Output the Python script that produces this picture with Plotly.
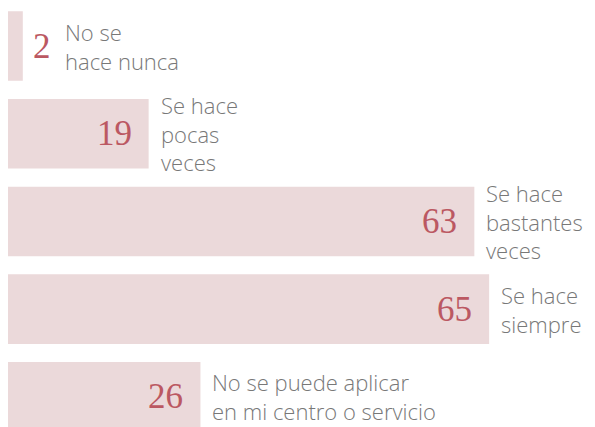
import plotly.graph_objects as go

# Survey answers: how often the practice is carried out
categories = [
    "No se hace nunca",
    "Se hace pocas veces",
    "Se hace bastantes veces",
    "Se hace siempre",
    "No se puede aplicar en mi centro o servicio",
]
label_lines = [
    ["No se", "hace nunca"],
    ["Se hace", "pocas", "veces"],
    ["Se hace", "bastantes", "veces"],
    ["Se hace", "siempre"],
    ["No se puede aplicar", "en mi centro o servicio"],
]
values = [2, 19, 63, 65, 26]

BAR_COLOR = "#ebd9da"
VALUE_COLOR = "#bb5862"
LABEL_COLOR = "#787878"

positions = list(range(len(values)))

fig = go.Figure(
    go.Bar(
        x=values,
        y=positions,
        orientation="h",
        marker=dict(color=BAR_COLOR, line=dict(width=0)),
        hoverinfo="skip",
    )
)

value_font = dict(family="Liberation Serif", size=35, color=VALUE_COLOR)
label_font = dict(family="Open Sans", size=22, color=LABEL_COLOR, weight=300)

annotations = []
for pos, v, lines in zip(positions, values, label_lines):
    if v < 5:
        # bar too narrow: number sits just right of the bar
        annotations.append(dict(
            x=v, y=pos, xref="x", yref="y", text=str(v), showarrow=False,
            xanchor="left", yanchor="middle", xshift=8, font=value_font,
        ))
        label_shift = 40
    else:
        annotations.append(dict(
            x=v, y=pos, xref="x", yref="y", text=str(v), showarrow=False,
            xanchor="right", yanchor="middle", xshift=-15, font=value_font,
        ))
        label_shift = 10
    annotations.append(dict(
        x=v, y=pos, xref="x", yref="y", text="<br>".join(lines),
        showarrow=False, xanchor="left", yanchor="middle", align="left",
        xshift=label_shift, font=label_font,
    ))

fig.update_layout(
    width=595,
    height=427,
    margin=dict(l=8, r=0, t=0, b=0),
    paper_bgcolor="white",
    plot_bgcolor="white",
    bargap=0.207,
    showlegend=False,
    xaxis=dict(range=[0, 79.3], visible=False, fixedrange=True),
    yaxis=dict(range=[4.344, -0.525], visible=False, fixedrange=True),
    annotations=annotations,
)

fig.write_html("out.html")
